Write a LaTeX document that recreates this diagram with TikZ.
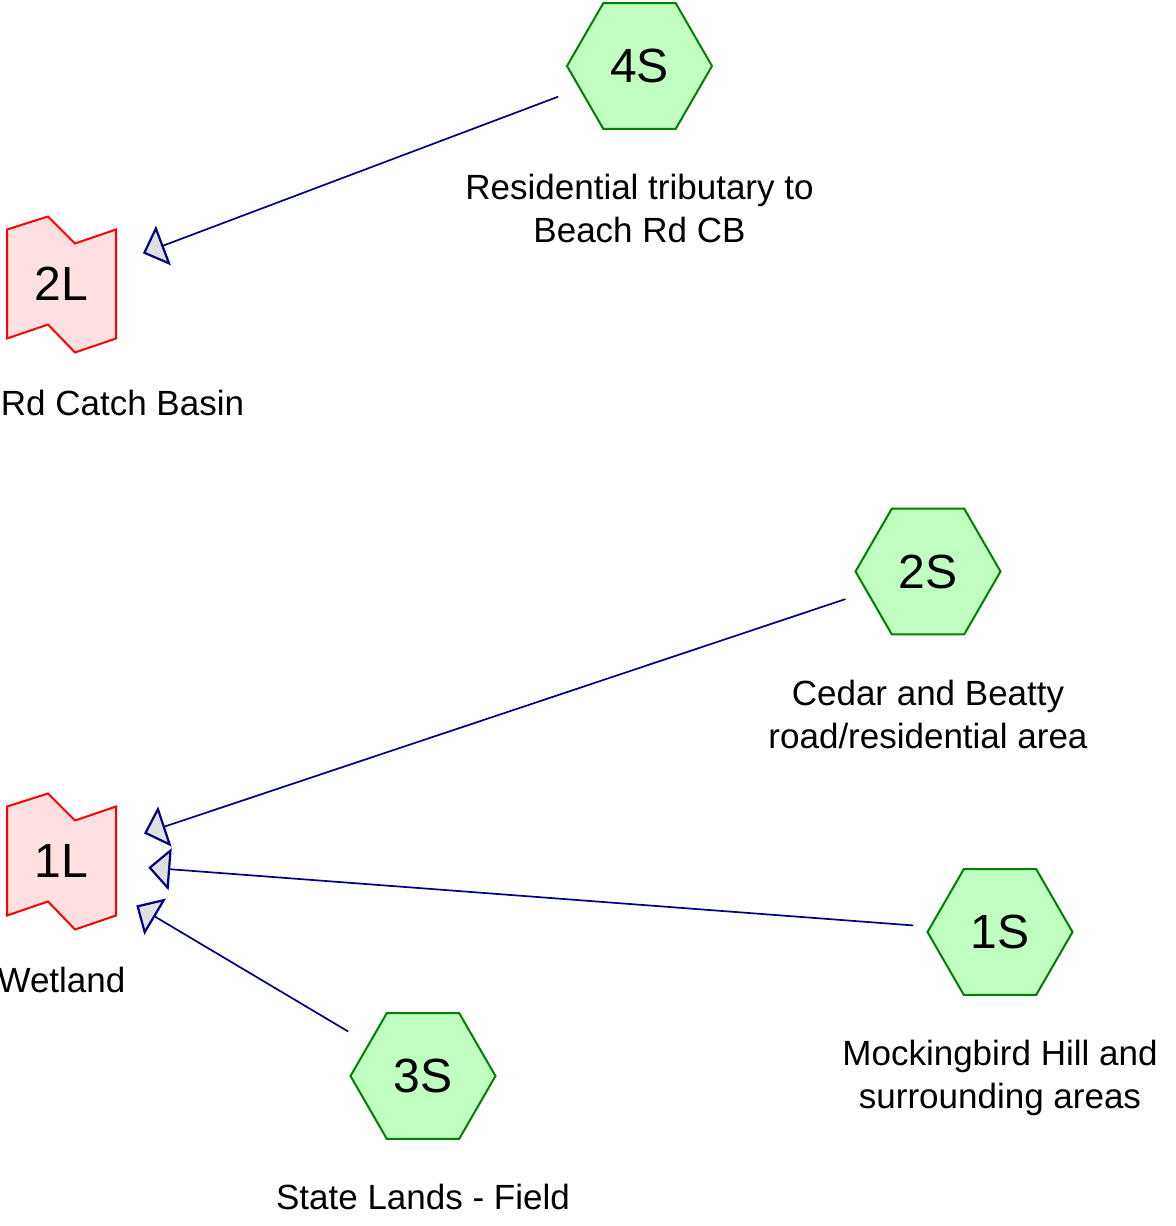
\documentclass[tikz,border=0pt]{standalone}
\usepackage{fontspec}
\setmainfont{Liberation Sans}
\usetikzlibrary{positioning, shapes.geometric, arrows.meta}

\definecolor{flowblue}{RGB}{0,0,128}
\definecolor{subfill}{RGB}{192,255,192}
\definecolor{subline}{RGB}{0,128,0}
\definecolor{pondfill}{RGB}{255,224,224}
\definecolor{pondline}{RGB}{255,0,0}
\definecolor{tipfill}{RGB}{224,224,224}

\begin{document}
\begin{tikzpicture}[
		x=0.5pt, y=-0.5pt,
		subcat/.style={regular polygon, regular polygon sides=6, draw=subline, fill=subfill, line width=1pt,
			minimum size=72.5pt, inner sep=0pt, font=\fontsize{24}{28}\selectfont},
		pondtext/.style={inner sep=0pt, font=\fontsize{24}{28}\selectfont},
		caption/.style={inner sep=0pt, align=center, font=\fontsize{17.5}{21.5}\selectfont},
		flow/.style={draw=flowblue, line width=0.85pt, shorten <=43.5pt, shorten >=43.5pt,
			-{Triangle[length=11pt, width=21pt, fill=tipfill, line width=1.1pt]}},
		pond/.pic={\draw[draw=pondline, fill=pondfill, line width=1pt]
			(-54.5,-54.5) -- (-13.5,-67.5) -- (13.5,-40.5) -- (54.5,-54.5)
			-- (54.5,54.5) -- (13.5,68.5) -- (-13.5,40.5) -- (-54.5,54.5) -- cycle;}
		]
		
		\useasboundingbox (0,0) rectangle (1176,1226);
		\clip (0,0) rectangle (1176,1226);
		
		% Ponds on the left
		\pic at (61.5,284) {pond};
		\node[pondtext] (pond2) at (61.5,284) {2L};
		\pic at (61.5,861) {pond};
		\node[pondtext] (pond1) at (61.5,861) {1L};
		
		% Subcatchments
		\node[subcat] (sub4) at (639.5,66) {4S};
		\node[subcat] (sub2) at (928,571.5) {2S};
		\node[subcat] (sub1) at (1000,932) {1S};
		\node[subcat] (sub3) at (423,1076) {3S};
		
		% Captions below each shape
		\node[caption, below=53pt of pond2.center, anchor=north west, xshift=-30.5pt] (pond2cap) {Rd Catch Basin};
		\node[caption, below=53pt of pond1.center] (pond1cap) {Wetland};
		\node[caption, below=54pt of sub4.center] (sub4cap) {Residential tributary to\\Beach Rd CB};
		\node[caption, below=54pt of sub2.center] (sub2cap) {Cedar and Beatty\\road/residential area};
		\node[caption, below=54pt of sub1.center] (sub1cap) {Mockingbird Hill and\\surrounding areas};
		\node[caption, below=54pt of sub3.center] (sub3cap) {State Lands - Field};
		
		% Routing
		\draw[flow] (sub4.center) -- (pond2.center);
		\draw[flow] (sub2.center) -- (pond1.center);
		\draw[flow] (sub1.center) -- (pond1.center);
		\draw[flow] (sub3.center) -- (pond1.center);
		
	\end{tikzpicture}
\end{document}
